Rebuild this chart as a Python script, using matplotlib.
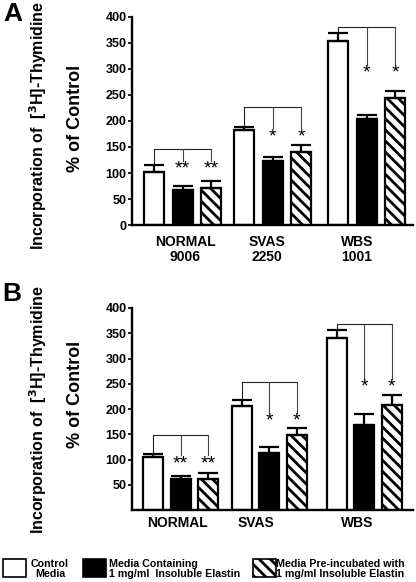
import numpy as np
import matplotlib
matplotlib.use("Agg")
import matplotlib.pyplot as plt
from matplotlib.patches import Rectangle

plt.rcParams['font.family'] = ['Liberation Sans', 'DejaVu Sans']
plt.rcParams['font.weight'] = 'bold'
plt.rcParams['hatch.linewidth'] = 2.0

# ---- data ----
groups_a = ["NORMAL\n9006", "SVAS\n2250", "WBS\n1001"]
groups_b = ["NORMAL", "SVAS", "WBS"]
conditions = ["Control\nMedia",
              "Media Containing\n1 mg/ml  Insoluble Elastin",
              "Media Pre-incubated with\n1 mg/ml Insoluble Elastin"]

# panel A (mean, upper error bar end) per group: control, elastin, pre-incubated
mean_a = [[102, 68, 72], [183, 123, 140], [354, 203, 245]]
err_a = [[115, 75, 85], [189, 131, 153], [369, 212, 257]]
stars_a = ["**", "*", "*"]
bracket_a = [146, 227, 381]
star_y_a = [108, 170, 292]

# panel B
mean_b = [[104, 62, 62], [205, 113, 148], [340, 168, 208]]
err_b = [[110, 68, 73], [217, 125, 162], [357, 190, 228]]
stars_b = ["**", "*", "*"]
bracket_b = [148, 254, 369]
star_y_b = [92, 176, 243]

W, H = 416, 582
FILLS = [dict(facecolor='white', hatch=None),
         dict(facecolor='black', hatch=None),
         dict(facecolor='white', hatch='\\\\\\')]


def fx(px):
    return px / W


def fy(py):
    return 1 - py / H


def draw_panel(ax, means, errs, stars, brackets, star_y, centers, offset, labels,
               label_x, yticks, pad):
    for g, c in enumerate(centers):
        xs = [c - offset, c, c + offset]
        for k in range(3):
            ax.bar(xs[k], means[g][k], width=20, edgecolor='black', linewidth=1.6,
                   zorder=2, **FILLS[k])
        up = [errs[g][k] - means[g][k] for k in range(3)]
        ax.errorbar(xs, means[g], yerr=[np.zeros(3), up], fmt='none', ecolor='black',
                    elinewidth=1.6, capsize=7, capthick=1.6, zorder=3)
        # significance bracket
        b = brackets[g]
        ax.plot([xs[0], xs[2]], [b, b], color='#222222', lw=0.8, zorder=1)
        ax.plot([xs[0], xs[0]], [b, errs[g][0]], color='#222222', lw=0.8, zorder=1)
        drop = star_y[g] + 16
        for k in (1, 2):
            ax.plot([xs[k], xs[k]], [b, drop], color='#444444', lw=0.8, zorder=1)
            ax.text(xs[k], star_y[g], stars[g], ha='center', va='center',
                    fontsize=14, fontweight='normal')
    ax.set_xlim(132, 413)
    ax.set_ylim(0, 400)
    ax.set_yticks(yticks)
    ax.set_yticklabels([str(t) for t in yticks], fontsize=9, fontweight='bold')
    ax.set_xticks(label_x)
    ax.set_xticklabels(labels, fontsize=10, fontweight='bold', linespacing=1.1)
    ax.tick_params(axis='x', length=0, pad=pad)
    ax.tick_params(axis='y', length=3, width=1.2, pad=1)
    for s in ('top', 'right'):
        ax.spines[s].set_visible(False)
    for s in ('left', 'bottom'):
        ax.spines[s].set_linewidth(1.7)
    ax.patch.set_alpha(0)


fig = plt.figure(figsize=(W / 100, H / 100), dpi=100)

ax_a = fig.add_axes([fx(132), fy(225), fx(413) - fx(132), (225 - 17) / H])
draw_panel(ax_a, mean_a, err_a, stars_a, bracket_a, star_y_a,
           [182.5, 272.5, 366.5], 28.5, groups_a, [185, 267, 357],
           [0, 50, 100, 150, 200, 250, 300, 350, 400], 7)

ax_b = fig.add_axes([fx(132), fy(510), fx(413) - fx(132), (510 - 308) / H])
draw_panel(ax_b, mean_b, err_b, stars_b, bracket_b, star_y_b,
           [180.5, 269, 364], 27.5, groups_b, [177.5, 256, 357],
           [50, 100, 150, 200, 250, 300, 350, 400], 4)

# y axis titles and panel letters
ylab = r"Incorporation of  [$\mathbf{^3}$H]-Thymidine"
for cy, cy2 in ((126, 118), (410, 394)):
    fig.text(fx(38), fy(cy), ylab, rotation=90, ha='center', va='center',
             fontsize=11.5, fontweight='bold')
    fig.text(fx(75), fy(cy2), "% of Control", rotation=90, ha='center', va='center',
             fontsize=13, fontweight='bold')
fig.text(fx(13), fy(14), "A", ha='center', va='center', fontsize=19, fontweight='bold')
fig.text(fx(12), fy(294), "B", ha='center', va='center', fontsize=19, fontweight='bold')

# legend
box_x = [3, 83, 253]
text_x = [50, 109, 276]
aligns = ['center', 'left', 'left']
for k in range(3):
    fig.patches.append(Rectangle((fx(box_x[k]), fy(577)), 23 / W, 18 / H,
                                 transform=fig.transFigure, edgecolor='black',
                                 linewidth=1.2, **FILLS[k]))
    fig.text(fx(text_x[k]), fy(569), conditions[k], ha=aligns[k], va='center',
             fontsize=7.7, fontweight='bold', linespacing=1.05)

fig.savefig("out.png", dpi=100)
